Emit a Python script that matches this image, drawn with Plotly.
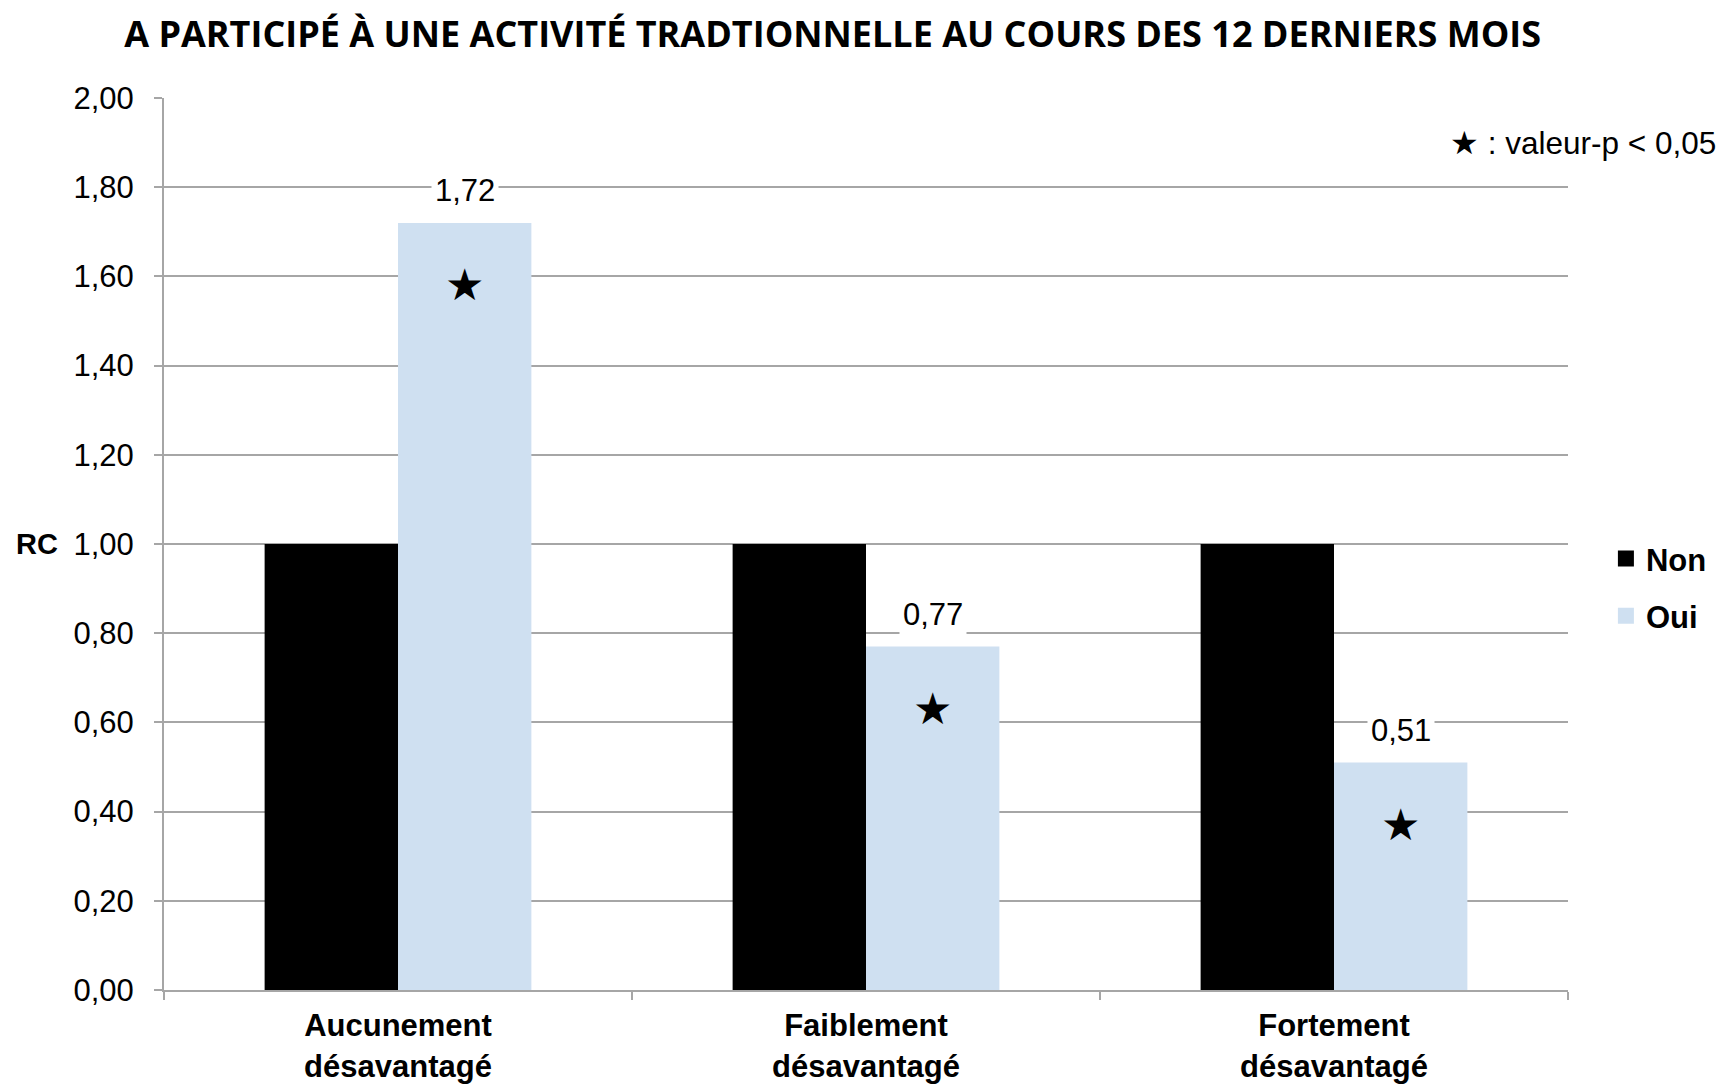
import plotly.graph_objects as go

categories = ["Aucunement<br>désavantagé", "Faiblement<br>désavantagé", "Fortement<br>désavantagé"]
non_values = [1.00, 1.00, 1.00]
oui_values = [1.72, 0.77, 0.51]
oui_significant = [True, True, True]
y_ticks = [0.0, 0.2, 0.4, 0.6, 0.8, 1.0, 1.2, 1.4, 1.6, 1.8, 2.0]
y_tick_labels = [f"{v:.2f}".replace(".", ",") for v in y_ticks]

BARGAP = 0.43
FONT = "Liberation Sans, Arial, sans-serif"
GRID = "#a6a6a6"
NON_COLOR = "#000000"
OUI_COLOR = "#cfe0f1"

fig = go.Figure()
fig.add_trace(go.Bar(name="Non", x=categories, y=non_values, marker_color=NON_COLOR,
                     marker_line_width=0, showlegend=False))
fig.add_trace(go.Bar(name="Oui", x=categories, y=oui_values, marker_color=OUI_COLOR,
                     marker_line_width=0, showlegend=False))
# legend entries with larger square swatches
for name, col in [("Non", NON_COLOR), ("Oui", OUI_COLOR)]:
    fig.add_trace(go.Scatter(name=name, x=[None], y=[None], mode="markers", legendgroup=name,
                             marker=dict(symbol="square", size=17, color=col)))

bar_w = (1 - BARGAP) / 2
annotations = []
for i, (v, sig) in enumerate(zip(oui_values, oui_significant)):
    xc = i + bar_w / 2
    annotations.append(dict(x=xc, y=v, xref="x", yref="y", text=f"{v:.2f}".replace(".", ","),
                            showarrow=False, yanchor="bottom", yshift=11, bgcolor="white",
                            font=dict(family=FONT, size=31, color="black"), borderpad=3))
    if sig:
        annotations.append(dict(x=xc, y=v, xref="x", yref="y", text="★", showarrow=False,
                                yanchor="middle", yshift=-62,
                                font=dict(family="DejaVu Sans", size=44, color="black")))

annotations.append(dict(x=0.0, y=1.0, xref="paper", yref="y", text="RC", showarrow=False,
                        xanchor="right", xshift=-104,
                        font=dict(family=FONT, size=29, color="black", weight="bold")))
annotations.append(dict(x=1.0, y=1.9, xref="paper", yref="y", text="★ : valeur-p < 0,05",
                        showarrow=False, xanchor="right", xshift=150,
                        font=dict(family=FONT, size=31.5, color="black")))

fig.update_layout(
    width=1718, height=1077,
    margin=dict(l=156, r=158, t=90, b=95),
    paper_bgcolor="white", plot_bgcolor="white",
    barmode="group", bargap=BARGAP, bargroupgap=0,
    title=dict(text="A PARTICIPÉ À UNE ACTIVITÉ TRADTIONNELLE AU COURS DES 12 DERNIERS MOIS",
               x=0.48, xanchor="center", y=1 - 26 / 1077, yanchor="middle",
               font=dict(family="Open Sans, sans-serif", size=36, color="black", weight="bold")),
    xaxis=dict(showline=True, linecolor=GRID, linewidth=2, ticks="outside", tickson="boundaries",
               tickcolor=GRID, ticklen=8, tickwidth=2, automargin=False, ticklabelstandoff=7,
               tickfont=dict(family=FONT, size=31, color="black", weight="bold"),
               showgrid=False),
    yaxis=dict(range=[0, 2.0], tickvals=y_ticks, ticktext=y_tick_labels,
               showline=True, linecolor=GRID, linewidth=2, ticks="outside",
               tickcolor=GRID, ticklen=8, tickwidth=2, ticklabelstandoff=14,
               showgrid=True, gridcolor=GRID, gridwidth=2, zeroline=False, automargin=False,
               tickfont=dict(family=FONT, size=31, color="black")),
    legend=dict(x=1.027, xanchor="left", xref="paper", y=0.4515, yanchor="middle",
                font=dict(family=FONT, size=31, color="black", weight="bold"),
                itemwidth=30, traceorder="grouped", tracegroupgap=14, itemsizing="trace"),
    annotations=annotations,
    showlegend=True,
)

fig.write_html("out.html")
